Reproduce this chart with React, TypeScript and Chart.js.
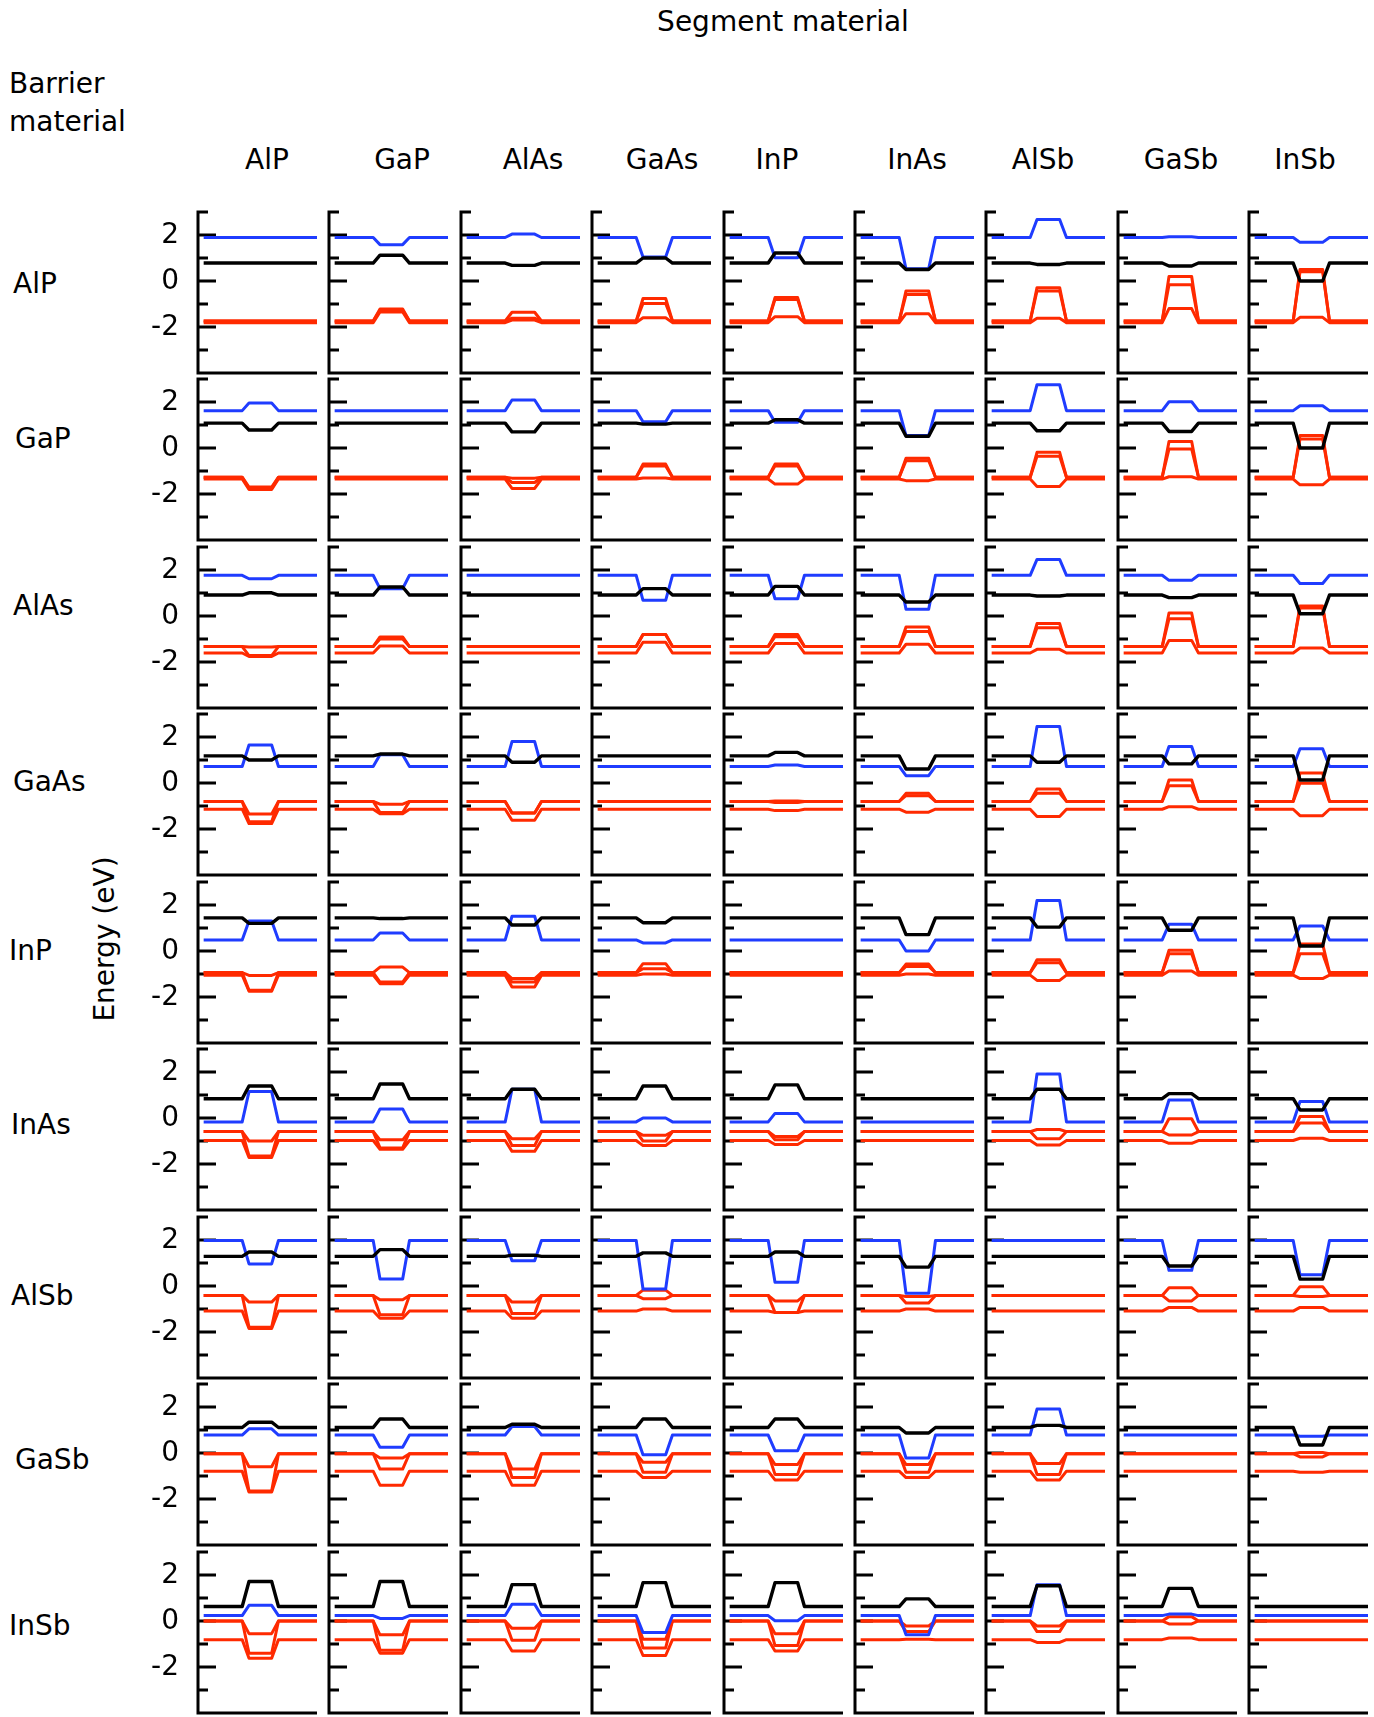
import React, { useEffect, useRef } from "react";
import { Chart, registerables } from "chart.js";

Chart.register(...registerables);

// ---------- data ----------
const materials = ["AlP", "GaP", "AlAs", "GaAs", "InP", "InAs", "AlSb", "GaSb", "InSb"];
const yTickLabels = [2, 0, -2];

// profile positions across the panel: barrier | ramp | segment | ramp | barrier
const profileX = [0, 0.34, 0.4, 0.6, 0.66, 1];

// barrier (unstrained) levels, indexed by barrier material (row)
const barrierGamma = [1.89, 1.625, 1.77, 0.72, 0.48, -0.17, 1.98, 0.78, 0.235];
const barrierXband = [0.78, 1.08, 0.91, 1.18, 1.44, 0.84, 1.29, 1.11, 0.63];
const barrierVB = [-1.74, -1.27, -1.33, -0.8, -0.94, -0.59, -0.41, -0.03, 0.0];
const barrierSO = [-1.81, -1.35, -1.61, -1.14, -1.05, -0.98, -1.09, -0.79, -0.81];

// segment levels [barrier row][segment column]
const segGamma = [
  [1.89, 1.58, 2.04, 1.04, 1.01, 0.53, 2.67, 1.92, 1.68],
  [1.96, 1.625, 2.09, 1.14, 1.12, 0.54, 2.75, 2.01, 1.84],
  [1.62, 1.19, 1.77, 0.68, 0.75, 0.29, 2.46, 1.55, 1.41],
  [1.65, 1.23, 1.8, 0.72, 0.78, 0.32, 2.46, 1.59, 1.49],
  [1.3, 0.78, 1.51, 0.35, 0.48, 0.0, 2.2, 1.16, 1.09],
  [1.15, 0.39, 1.25, 0.0, 0.2, -0.17, 1.91, 0.78, 0.72],
  [0.96, 0.3, 1.1, -0.13, 0.16, -0.32, 1.98, 0.68, 0.49],
  [1.05, 0.25, 1.15, -0.08, 0.1, -0.22, 1.91, 0.78, 0.73],
  [0.68, 0.11, 0.73, -0.5, 0.01, -0.6, 1.58, 0.3, 0.235],
];
const segXband = [
  [0.78, 1.12, 0.68, 1.0, 1.22, 0.5, 0.72, 0.65, 0.0],
  [0.78, 1.08, 0.7, 1.04, 1.23, 0.51, 0.75, 0.72, 0.0],
  [1.01, 1.26, 0.91, 1.19, 1.29, 0.61, 0.87, 0.8, 0.1],
  [1.0, 1.26, 0.9, 1.18, 1.33, 0.61, 0.9, 0.83, 0.13],
  [1.2, 1.41, 1.13, 1.23, 1.44, 0.71, 1.04, 0.9, 0.22],
  [1.39, 1.48, 1.25, 1.39, 1.44, 0.84, 1.25, 1.06, 0.35],
  [1.48, 1.58, 1.34, 1.44, 1.48, 0.82, 1.29, 0.87, 0.3],
  [1.34, 1.48, 1.25, 1.48, 1.48, 0.87, 1.2, 1.11, 0.35],
  [1.72, 1.72, 1.58, 1.67, 1.67, 0.96, 1.53, 1.42, 0.63],
];
const segHH = [
  [-1.74, -1.22, -1.36, -0.76, -0.72, -0.43, -0.29, 0.2, 0.5],
  [-1.7, -1.27, -1.31, -0.7, -0.7, -0.45, -0.19, 0.28, 0.54],
  [-1.35, -0.91, -1.33, -0.8, -0.8, -0.48, -0.33, 0.13, 0.43],
  [-1.35, -0.92, -1.3, -0.8, -0.78, -0.45, -0.26, 0.13, 0.43],
  [-1.06, -0.7, -1.2, -0.55, -0.94, -0.57, -0.38, 0.03, 0.3],
  [-1.0, -0.95, -0.9, -0.75, -0.8, -0.59, -0.5, -0.03, 0.06],
  [-0.7, -0.6, -0.7, -0.18, -0.65, -0.46, -0.41, -0.08, -0.03],
  [-0.6, -0.22, -0.7, -0.4, -0.5, -0.5, -0.46, -0.03, 0.02],
  [-0.55, -0.6, -0.32, -0.79, -0.55, -0.22, -0.22, 0.19, 0.0],
];
const segLH = [
  [-1.74, -1.27, -1.62, -0.98, -0.8, -0.59, -0.43, -0.16, 0.4],
  [-1.76, -1.27, -1.5, -0.78, -0.78, -0.55, -0.36, -0.04, 0.39],
  [-1.72, -1.0, -1.33, -0.8, -0.9, -0.67, -0.51, -0.12, 0.35],
  [-1.68, -1.28, -1.3, -0.8, -0.85, -0.55, -0.45, -0.12, -0.01],
  [-1.71, -1.35, -1.35, -0.77, -0.94, -0.67, -0.51, -0.12, -0.12],
  [-1.65, -1.3, -1.2, -1.0, -0.95, -0.59, -0.9, -0.74, -0.22],
  [-1.79, -1.25, -1.2, -0.55, -1.15, -0.74, -0.41, -0.65, -0.46],
  [-1.65, -0.7, -1.07, -0.84, -0.93, -0.84, -0.93, -0.03, -0.17],
  [-1.4, -1.27, -0.84, -1.17, -1.07, -0.46, -0.46, -0.13, 0.0],
];
const segSO = [
  [-1.81, -1.35, -1.7, -1.6, -1.55, -1.42, -1.62, -1.2, -1.58],
  [-1.8, -1.35, -1.76, -1.3, -1.57, -1.42, -1.67, -1.25, -1.6],
  [-1.76, -1.3, -1.61, -1.14, -1.2, -1.23, -1.45, -1.06, -1.39],
  [-1.76, -1.34, -1.62, -1.14, -1.2, -1.27, -1.46, -1.03, -1.42],
  [-1.75, -1.42, -1.57, -1.0, -1.05, -1.0, -1.28, -0.87, -1.2],
  [-1.72, -1.36, -1.45, -1.2, -1.15, -0.98, -1.17, -1.1, -0.88],
  [-1.85, -1.4, -1.4, -1.0, -1.15, -1.0, -1.09, -0.93, -0.93],
  [-1.7, -1.4, -1.4, -1.07, -1.17, -1.07, -1.17, -0.79, -0.84],
  [-1.62, -1.4, -1.3, -1.5, -1.3, -0.79, -0.93, -0.74, -0.81],
];

// ---------- layout / style ----------
const FONT = '"DejaVu Sans", "Noto Sans", sans-serif';
const BLUE = "#1f3cff";
const RED = "#ff2a00";
const BLACK = "#000000";
const AXIS_X0 = 198;
const COL_PITCH = 131.4;
const PLOT_W = 119;
const ROW_Y0 = 211.5;
const ROW_PITCH = 167.5;
const PLOT_H = 161;

const headerCenters = [267, 402, 533, 662, 777, 917, 1043, 1181, 1305];
const rowLabelPos = [
  [13, 284], [15, 439], [13, 606], [13, 782], [9, 951],
  [11, 1125], [11, 1296], [15, 1460], [9, 1626],
];

function profile(barrier: number, seg: number) {
  return profileX.map((x, i) => ({ x, y: i === 2 || i === 3 ? seg : barrier }));
}

const axesPlugin = {
  id: "panelAxes",
  beforeDatasetsDraw(chart: any, _args: any, opts: any) {
    const { ctx, chartArea } = chart;
    const ys = chart.scales.y;
    const left = chartArea.left;
    const right = chartArea.right;
    const top = ys.getPixelForValue(3);
    const bottom = ys.getPixelForValue(-4);
    ctx.save();
    ctx.strokeStyle = "#000";
    ctx.lineWidth = 3;
    ctx.lineCap = "butt";
    ctx.beginPath();
    ctx.moveTo(left, top - 1.5);
    ctx.lineTo(left, bottom + 1.5);
    ctx.moveTo(left - 1.5, bottom);
    ctx.lineTo(right, bottom);
    for (let v = -4; v <= 3; v++) {
      const y = ys.getPixelForValue(v);
      const len = v % 2 === 0 ? 18 : 10;
      ctx.moveTo(left, y);
      ctx.lineTo(left + len, y);
    }
    ctx.stroke();
    if (opts && opts.labels) {
      ctx.fillStyle = "#000";
      ctx.font = "28px " + FONT;
      ctx.textAlign = "right";
      ctx.textBaseline = "middle";
      for (const t of yTickLabels) {
        ctx.fillText(String(t), left - 19, ys.getPixelForValue(t) + 1);
      }
    }
    ctx.restore();
  },
};

function Panel({ row, col }: { row: number; col: number }) {
  const ref = useRef<HTMLCanvasElement>(null);
  const padL = col === 0 ? 90 : 8;
  const padR = 6;
  const padT = 6;
  const padB = 6;
  const axisX = Math.round(AXIS_X0 + col * COL_PITCH);
  const topY = Math.round(ROW_Y0 + row * ROW_PITCH);
  const w = padL + PLOT_W + padR;
  const h = padT + PLOT_H + padB;

  useEffect(() => {
    if (!ref.current) return;
    const lw = 3;
    const chart = new Chart(ref.current, {
      type: "line",
      data: {
        datasets: [
          { label: "X", data: profile(barrierXband[row], segXband[row][col]), borderColor: BLACK, borderWidth: 3.4 },
          { label: "Gamma", data: profile(barrierGamma[row], segGamma[row][col]), borderColor: BLUE, borderWidth: lw },
          { label: "HH", data: profile(barrierVB[row], segHH[row][col]), borderColor: RED, borderWidth: lw },
          { label: "LH", data: profile(barrierVB[row], segLH[row][col]), borderColor: RED, borderWidth: lw },
          { label: "SO", data: profile(barrierSO[row], segSO[row][col]), borderColor: RED, borderWidth: lw },
        ],
      },
      options: {
        responsive: false,
        animation: false,
        devicePixelRatio: 1,
        layout: { padding: { left: padL, right: padR, top: padT, bottom: padB } },
        elements: {
          point: { radius: 0 },
          line: { tension: 0, borderJoinStyle: "round", fill: false },
        },
        scales: {
          x: { type: "linear", min: -0.05, max: 1, display: false },
          y: { type: "linear", min: -4, max: 3, display: false },
        },
        plugins: {
          legend: { display: false },
          tooltip: { enabled: false },
          panelAxes: { labels: col === 0 },
        } as any,
      },
      plugins: [axesPlugin],
    });
    return () => chart.destroy();
  }, [row, col]);

  return (
    <canvas
      ref={ref}
      width={w}
      height={h}
      style={{ position: "absolute", left: axisX - padL, top: topY - padT, width: w, height: h }}
    />
  );
}

const textStyle: React.CSSProperties = {
  position: "absolute",
  fontFamily: FONT,
  fontSize: 28,
  lineHeight: "28px",
  color: "#000",
  whiteSpace: "nowrap",
};

export default function App() {
  const panels: JSX.Element[] = [];
  for (let r = 0; r < 9; r++) {
    for (let c = 0; c < 9; c++) {
      panels.push(<Panel key={`${r}-${c}`} row={r} col={c} />);
    }
  }
  return (
    <div
      style={{
        position: "absolute",
        left: 0,
        top: 0,
        width: 1374,
        height: 1717,
        overflow: "hidden",
        background: "#fff",
      }}
    >
      <div style={{ ...textStyle, left: 783, top: 22, transform: "translate(-50%, -50%)" }}>Segment material</div>
      <div style={{ ...textStyle, left: 9, top: 84, transform: "translate(0, -50%)" }}>Barrier</div>
      <div style={{ ...textStyle, left: 9, top: 122, transform: "translate(0, -50%)" }}>material</div>
      {materials.map((m, i) => (
        <div key={"h" + m} style={{ ...textStyle, left: headerCenters[i], top: 160, transform: "translate(-50%, -50%)" }}>
          {m}
        </div>
      ))}
      {materials.map((m, i) => (
        <div key={"r" + m} style={{ ...textStyle, left: rowLabelPos[i][0], top: rowLabelPos[i][1], transform: "translate(0, -50%)" }}>
          {m}
        </div>
      ))}
      <div
        style={{
          ...textStyle,
          left: 105,
          top: 939,
          transform: "translate(-50%, -50%) rotate(-90deg)",
        }}
      >
        Energy (eV)
      </div>
      {panels}
    </div>
  );
}
